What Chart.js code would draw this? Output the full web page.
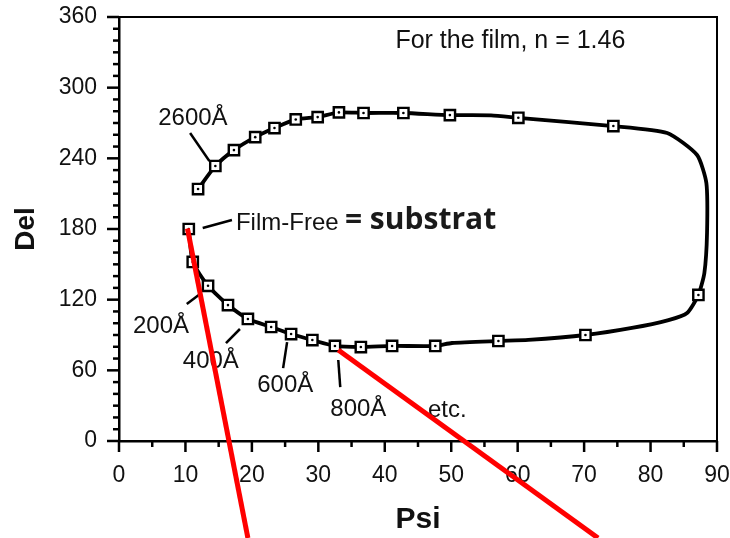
<!DOCTYPE html>
<html>
<head>
<meta charset="utf-8">
<script src="https://cdn.jsdelivr.net/npm/chart.js@4.4.0/dist/chart.umd.min.js"></script>
<style>
  body { margin: 0; background: #fff; }
  canvas { display: block; }
</style>
</head>
<body>
<canvas id="grafico" width="730" height="538"></canvas>
<script>
// trace of the curve (Psi, Del), from Film-Free round to 2600 A
const tracePsi = [10.5, 11.1, 13.4, 16.4, 19.4, 22.9, 25.9, 29.1, 32.5, 36.4, 41.1, 47.6, 50.1, 57.1, 61.6, 70.2, 77.2, 82.7, 85.5, 87.2,
  88.1, 88.5, 88.4, 87.0, 82.5, 74.4, 60.1, 56.0, 49.8, 42.8, 36.8, 33.1, 29.9, 26.6, 23.4, 20.5, 17.3, 14.5, 11.9];
const traceDel = [180, 152, 131.8, 115.4, 103.6, 96.8, 90.8, 85.7, 80.7, 79.8, 80.7, 80.7, 83.2, 84.9, 85.8, 90.0, 96.0, 102.7, 108.7, 124.0,
  142.7, 176.6, 219, 242.8, 261.5, 267.4, 274.4, 276.5, 276.7, 278.5, 278.5, 279, 275, 273, 265.7, 258, 247, 233.5, 213.9];

// square markers
const markerPsi = [10.5, 11.1, 13.4, 16.4, 19.4, 22.9, 25.9, 29.1, 32.5, 36.4, 41.1, 47.6, 57.1, 70.2, 87.2,
  74.4, 60.1, 49.8, 42.8, 36.8, 33.1, 29.9, 26.6, 23.4, 20.5, 17.3, 14.5, 11.9];
const markerDel = [180, 152, 131.8, 115.4, 103.6, 96.8, 90.8, 85.7, 80.7, 79.8, 80.7, 80.7, 84.9, 90.0, 124.0,
  267.4, 274.4, 276.7, 278.5, 278.5, 279, 275, 273, 265.7, 258, 247, 233.5, 213.9];

// axis ticks
const psiTicks = [0, 10, 20, 30, 40, 50, 60, 70, 80, 90];
const delTicks = [0, 60, 120, 180, 240, 300, 360];

// labels: text, psi, del (left edge, vertical middle)
const labelText = ['2600Å', 'Film-Free', '200Å', '400Å', '600Å', '800Å', 'etc.', 'For the film, n = 1.46'];
const labelPsi = [5.9, 17.6, 2.1, 9.6, 20.8, 31.8, 46.5, 41.6];
const labelDel = [273.8, 185.1, 97.6, 67.9, 47.5, 26.7, 26.3, 339.6];

// leader lines: psi1, del1, psi2, del2
const leaders = [
  [10.7, 261.5, 13.6, 237.7],
  [12.6, 180.8, 17.0, 187.6],
  [10.2, 116.3, 12.2, 124.8],
  [16.1, 83.2, 18.2, 95.1],
  [24.7, 61.9, 25.3, 84.0],
  [33.3, 45.8, 33.0, 68.8]
];

// red pointer lines (they run off the bottom of the picture)
const pointers = [
  [10.3, 180.5, 19.4, -82.4],
  [33.0, 77.3, 72.1, -82.4]
];

const FONT = '"Liberation Sans", Arial, Helvetica, sans-serif';

const toPts = (xs, ys) => xs.map((x, i) => ({ x: x, y: ys[i] }));

const adornos = {
  id: 'adornos',
  afterDraw(chart) {
    const ctx = chart.ctx;
    const sx = chart.scales.x, sy = chart.scales.y;
    const a = chart.chartArea;
    ctx.save();
    ctx.strokeStyle = '#000';
    ctx.lineCap = 'butt';

    // top and right frame
    ctx.lineWidth = 2;
    ctx.beginPath();
    ctx.moveTo(a.left, a.top);
    ctx.lineTo(a.right, a.top);
    ctx.lineTo(a.right, a.bottom);
    ctx.stroke();

    // tick marks, long at labels, short between
    ctx.lineWidth = 2.5;
    for (let v = 0; v <= 90; v += 5) {
      const px = sx.getPixelForValue(v);
      const len = psiTicks.includes(v) ? 11 : 6;
      ctx.beginPath();
      ctx.moveTo(px, a.bottom);
      ctx.lineTo(px, a.bottom + len);
      ctx.stroke();
    }
    for (let v = 0; v <= 360; v += 10) {
      const py = sy.getPixelForValue(v);
      const len = delTicks.includes(v) ? 12 : 6;
      ctx.beginPath();
      ctx.moveTo(a.left, py);
      ctx.lineTo(a.left - len, py);
      ctx.stroke();
    }

    // leader lines
    ctx.lineWidth = 2.5;
    leaders.forEach(l => {
      ctx.beginPath();
      ctx.moveTo(sx.getPixelForValue(l[0]), sy.getPixelForValue(l[1]));
      ctx.lineTo(sx.getPixelForValue(l[2]), sy.getPixelForValue(l[3]));
      ctx.stroke();
    });

    // labels
    ctx.fillStyle = '#111';
    ctx.textBaseline = 'middle';
    ctx.textAlign = 'left';
    labelText.forEach((t, i) => {
      ctx.font = (i === labelText.length - 1 ? '25px ' : '24px ') + FONT;
      ctx.fillText(t, sx.getPixelForValue(labelPsi[i]), sy.getPixelForValue(labelDel[i]));
    });
    ctx.font = 'bold 30px "Open Sans", "Noto Sans", sans-serif';
    ctx.fillStyle = '#1a1a1a';
    ctx.fillText('= substrat', sx.getPixelForValue(34.0), sy.getPixelForValue(187.5));

    // red pointers
    ctx.strokeStyle = '#ff0000';
    ctx.lineWidth = 5;
    pointers.forEach(p => {
      ctx.beginPath();
      ctx.moveTo(sx.getPixelForValue(p[0]), sy.getPixelForValue(p[1]));
      ctx.lineTo(sx.getPixelForValue(p[2]), sy.getPixelForValue(p[3]));
      ctx.stroke();
    });
    ctx.restore();
  }
};

const ctx = document.getElementById('grafico').getContext('2d');
const grafico = new Chart(ctx, {
  type: 'scatter',
  data: {
    datasets: [
      {
        label: 'curva',
        data: toPts(tracePsi, traceDel),
        showLine: true,
        borderColor: '#000',
        borderWidth: 3.8,
        tension: 0.2,
        pointRadius: 0,
        order: 3
      },
      {
        label: 'marcas',
        data: toPts(markerPsi, markerDel),
        pointStyle: 'rect',
        pointRadius: 7.3,
        pointBorderWidth: 2.4,
        pointBorderColor: '#000',
        pointBackgroundColor: '#fff',
        order: 2
      },
      {
        label: 'puntos',
        data: toPts(markerPsi, markerDel),
        pointStyle: 'circle',
        pointRadius: 1.3,
        pointBorderWidth: 0,
        pointBackgroundColor: '#000',
        order: 1
      }
    ]
  },
  options: {
    responsive: false,
    animation: false,
    events: [],
    layout: { padding: { top: 17, right: 13, left: 0, bottom: 0 } },
    plugins: {
      legend: { display: false },
      tooltip: { enabled: false }
    },
    scales: {
      x: {
        type: 'linear',
        min: 0,
        max: 90,
        afterFit: s => { s.height = 97; s.paddingLeft = 0; s.paddingRight = 0; },
        afterBuildTicks: s => { s.ticks = psiTicks.map(v => ({ value: v })); },
        ticks: { color: '#111', font: { family: FONT, size: 23 }, padding: 21, maxRotation: 0, autoSkip: false },
        grid: { display: false, drawTicks: false },
        border: { display: true, color: '#000', width: 2.5 },
        title: { display: true, text: 'Psi', color: '#111', font: { family: FONT, size: 30, weight: 'bold' }, padding: { top: 0, bottom: 0 } }
      },
      y: {
        type: 'linear',
        min: 0,
        max: 360,
        afterFit: s => { s.width = 119; s.paddingTop = 0; s.paddingBottom = 0; },
        afterBuildTicks: s => { s.ticks = delTicks.map(v => ({ value: v })); },
        ticks: { color: '#111', font: { family: FONT, size: 23 }, padding: 22, autoSkip: false },
        grid: { display: false, drawTicks: false },
        border: { display: true, color: '#000', width: 2.5 },
        title: { display: true, text: 'Del', color: '#111', font: { family: FONT, size: 28, weight: 'bold' }, padding: { top: 9, bottom: 0 } }
      }
    }
  },
  plugins: [adornos]
});
</script>
</body>
</html>
